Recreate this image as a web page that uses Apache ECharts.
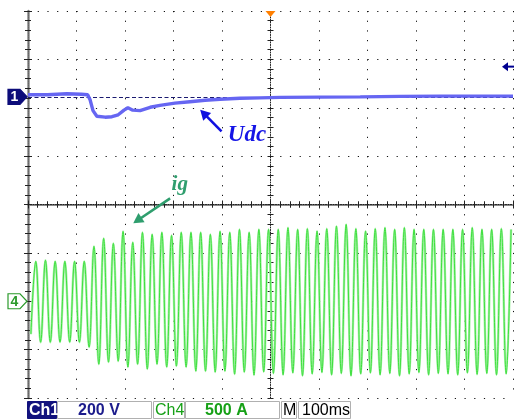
<!DOCTYPE html>
<html><head><meta charset="utf-8">
<script src="https://cdn.jsdelivr.net/npm/echarts@6/dist/echarts.min.js"></script>
<style>html,body{margin:0;padding:0;background:#fff}#c{width:514px;height:419px}</style>
</head><body><div id="c"></div>
<script>
// ---- scope settings ----
const timePerDiv = 100;   // ms/div
const ch1PerDiv = 200;    // V/div
const ch4PerDiv = 500;    // A/div
const ch1OffsetDiv = 2.225; // ch1 ground level (div above centre)
const ch4OffsetDiv = -2;    // ch4 ground level (div above centre)
const statusTexts = ['Ch1', '200 V', 'Ch4', '500 A', 'M', '100ms'];

// ---- Udc (ch1), volts relative to ch1 ground marker ----
const udcTime = [0, 40, 80, 110, 123, 128, 134, 142, 159, 173, 186, 198, 206, 216, 231, 252, 272, 303, 334, 365, 396, 437, 478, 520, 602, 685, 767, 849, 932, 1000];
const udcVolt = [9, 9, 13, 11, 9, -12, -57, -80, -84, -82, -74, -55, -45, -55, -57, -43, -35, -26, -20, -14, -10, -6, -4, -2, -1, 0, 2, 3, 3, 3];

// ---- ig (ch4), amps: successive peaks / troughs ----
const igTime = [6,16,26,36,46,56,66,76,86,96,106,116,126,136,146,156,166,176,186,196,206,216,226,236,246,256,266,276,286,296,306,316,326,336,346,356,366,376,386,396,406,416,426,436,446,456,466,476,486,496,506,516,526,536,546,556,566,576,586,596,606,616,626,636,646,656,666,676,686,696,706,716,726,736,746,756,766,776,786,796,806,816,826,836,846,856,866,876,886,896,906,916,926,936,946,956,966,976,986,996];
const igAmp = [-340,412,-423,423,-423,412,-423,412,-423,412,-423,412,-474,567,-650,650,-629,598,-619,722,-680,608,-650,711,-701,691,-650,711,-680,680,-670,711,-680,711,-722,711,-722,691,-732,722,-722,711,-753,742,-732,711,-763,742,-730,742,-745,742,-760,760,-740,742,-770,749,-750,725,-735,749,-760,777,-745,794,-770,749,-750,725,-740,749,-760,760,-745,742,-770,760,-750,742,-735,742,-760,742,-745,742,-750,742,-760,742,-740,760,-755,742,-745,742,-760,749,-750,742];

// ---- annotations (data coordinates) ----
const ch1TrigLevel = 125;            // V
const trigTime = 500;                // ms
const udcLabel = {text: 'Udc', at: [412, -158], from: [399, -143], to: [355, -53]};
const igLabel  = {text: 'ig',  at: [296, 1202], from: [293, 1064], to: [217, 806]};

const zip = (a, b) => a.map((v, i) => [v, b[i]]);

const chart = echarts.init(document.getElementById('c'));
const tickStyle = {color: '#222', width: 1};
const dotV = [1.2, 8.475];
const dotH = [1.2, 8.5];
const baseX = {type: 'value', min: 0, max: 10 * timePerDiv, interval: timePerDiv, axisLabel: {show: false}, splitLine: {show: false}};
const baseY = {type: 'value', min: -4, max: 4, interval: 1, axisLabel: {show: false}, splitLine: {show: false}};
const tk = (len) => ({show: true, inside: true, length: len, lineStyle: tickStyle});
const mt = (len) => ({show: true, splitNumber: 5, length: len, lineStyle: tickStyle});

chart.setOption({
  animation: false,
  backgroundColor: '#fff',
  grid: {left: 28, top: 11, width: 485, height: 387, containLabel: false, outerBoundsMode: 'none'},
  xAxis: [
    Object.assign({}, baseX, {position: 'bottom', axisLine: {show: true, lineStyle: {color: '#666', width: 1, type: [1, 1]}}, axisTick: tk(4), minorTick: mt(3),
      splitLine: {show: true, lineStyle: {color: '#111', width: 1, type: dotV}}}),
    Object.assign({}, baseX, {position: 'top', axisLine: {show: true, lineStyle: {color: '#8a8a8a', width: 2}}, axisTick: tk(4), minorTick: mt(3)}),
    Object.assign({}, baseX, {position: 'bottom', offset: -193.5, axisLine: {show: true, lineStyle: {color: '#222', width: 1, type: [1, 1.5]}}, axisTick: tk(3), minorTick: mt(3)}),
    Object.assign({}, baseX, {position: 'top', offset: -193.5, axisLine: {show: false}, axisTick: tk(3), minorTick: mt(3)})
  ],
  yAxis: [
    Object.assign({}, baseY, {position: 'left', axisLine: {show: true, lineStyle: {color: '#8a8a8a', width: 2.5}}, axisTick: tk(4), minorTick: mt(3),
      splitLine: {show: true, lineStyle: {color: '#111', width: 1, type: dotH}}}),
    Object.assign({}, baseY, {position: 'right', axisLine: {show: true, lineStyle: {color: '#666', width: 1, type: [1, 1]}}, axisTick: tk(4), minorTick: mt(3)}),
    Object.assign({}, baseY, {position: 'left', offset: -242.5, axisLine: {show: true, lineStyle: {color: '#222', width: 1, type: [1, 1.5]}}, axisTick: tk(3), minorTick: mt(3)}),
    Object.assign({}, baseY, {position: 'right', offset: -242.5, axisLine: {show: false}, axisTick: tk(3), minorTick: mt(3)}),
    {type: 'value', show: false, min: -(4 + ch1OffsetDiv) * ch1PerDiv, max: (4 - ch1OffsetDiv) * ch1PerDiv},
    {type: 'value', show: false, min: -(4 + ch4OffsetDiv) * ch4PerDiv, max: (4 - ch4OffsetDiv) * ch4PerDiv}
  ],
  series: [
    {name: 'ig_glow', type: 'line', xAxisIndex: 0, yAxisIndex: 5, data: zip(igTime, igAmp), showSymbol: false, smooth: 0.4,
      lineStyle: {color: '#a8f2a8', width: 2.4}, z: 3, silent: true},
    {name: 'ig', type: 'line', xAxisIndex: 0, yAxisIndex: 5, data: zip(igTime, igAmp), showSymbol: false, smooth: 0.4,
      lineStyle: {color: '#3fe03f', width: 1}, z: 4, silent: true},
    {name: 'Udc', type: 'line', xAxisIndex: 0, yAxisIndex: 4, data: zip(udcTime, udcVolt), showSymbol: false,
      lineStyle: {color: '#6666f2', width: 3.4}, z: 6, silent: true,
      markLine: {silent: true, symbol: 'none', label: {show: false}, data: [{yAxis: 0}],
        lineStyle: {type: [4, 2.5], color: '#1a1a70', width: 1.2}}}
  ]
});

// ---- decorations ----
const p1 = (v) => chart.convertToPixel({xAxisIndex: 0, yAxisIndex: 4}, v);
const p4 = (v) => chart.convertToPixel({xAxisIndex: 0, yAxisIndex: 5}, v);

function arrow(a, b, color, w, hl, hw) {
  const dx = b[0] - a[0], dy = b[1] - a[1];
  const L = Math.hypot(dx, dy), ux = dx / L, uy = dy / L;
  const bx = b[0] - ux * hl, by = b[1] - uy * hl;
  return [
    {type: 'line', shape: {x1: a[0], y1: a[1], x2: bx + ux * 1, y2: by + uy * 1}, style: {stroke: color, lineWidth: w}, z: 20},
    {type: 'polygon', shape: {points: [b, [bx - uy * hw, by + ux * hw], [bx + uy * hw, by - ux * hw]]}, style: {fill: color}, z: 20}
  ];
}
function marker(y, fill, stroke, txt, txtColor) {
  return [
    {type: 'polygon', shape: {points: [[8, y - 7.5], [20, y - 7.5], [27, y], [20, y + 7.5], [8, y + 7.5]]},
      style: {fill: fill, stroke: stroke, lineWidth: 1.2}, z: 20},
    {type: 'text', x: 14.5, y: y + 0.5, style: {text: txt, fill: txtColor, font: 'bold 14px "Liberation Sans"', align: 'center', verticalAlign: 'middle'}, z: 21}
  ];
}

const g = [];
const c1 = p1([0, 0])[1];
const c4 = p4([0, 0])[1];
g.push(...marker(c1, '#0c0c7a', '#0c0c7a', '1', '#fff'));
g.push(...marker(c4, '#fff', '#2a9a2a', '4', '#2a9a2a'));

// ch1 trigger level arrow at right
const ty = p1([1000, ch1TrigLevel])[1];
g.push({type: 'line', shape: {x1: 506, y1: ty, x2: 514, y2: ty}, style: {stroke: '#000090', lineWidth: 2}, z: 20});
g.push({type: 'polygon', shape: {points: [[502, ty], [508, ty - 4.5], [508, ty + 4.5]]}, style: {fill: '#000090'}, z: 20});

// trigger position
const tx = p1([trigTime, 0])[0];
g.push({type: 'polygon', shape: {points: [[tx - 5, 11], [tx + 5, 11], [tx, 17]]}, style: {fill: '#ff7f00'}, z: 20});

// annotations
g.push(...arrow(p1(udcLabel.from), p1(udcLabel.to), '#1010e0', 2.6, 10, 5.5));
const ul = p1(udcLabel.at);
g.push({type: 'text', x: ul[0], y: ul[1], style: {text: udcLabel.text, fill: '#1414e6', font: 'italic bold 23px "Liberation Serif"', verticalAlign: 'middle'}, z: 21});
g.push(...arrow(p4(igLabel.from), p4(igLabel.to), '#2f9e6e', 2.6, 10, 5.5));
const il = p4(igLabel.at);
g.push({type: 'text', x: il[0], y: il[1], style: {text: igLabel.text, fill: '#2f9e6e', font: 'italic bold 21px "Liberation Serif"', verticalAlign: 'middle'}, z: 21});

// status bar
const boxes = [
  {x: 27, w: 30, bg: '#12127e', fg: '#ffffff', bold: true, tx: 29},
  {x: 57, w: 95, bg: '#ffffff', fg: '#1c1c8c', bold: true, tx: 78},
  {x: 153, w: 32, bg: '#ffffff', fg: '#16a016', bold: false, tx: 155},
  {x: 185, w: 95, bg: '#ffffff', fg: '#16a016', bold: true, tx: 205},
  {x: 281, w: 16, bg: '#ffffff', fg: '#000000', bold: false, tx: 283},
  {x: 298, w: 53, bg: '#ffffff', fg: '#000000', bold: false, tx: 302}
];
boxes.forEach((b, i) => {
  g.push({type: 'rect', shape: {x: b.x + 0.5, y: 401.5, width: b.w - 1, height: 17}, style: {fill: b.bg, stroke: i === 0 ? b.bg : '#b0b0b0', lineWidth: 1}, z: 20});
  g.push({type: 'text', x: b.tx, y: 411, style: {text: statusTexts[i], fill: b.fg, font: (b.bold ? 'bold ' : '') + '16px "Liberation Sans"', verticalAlign: 'middle'}, z: 21});
});

chart.setOption({graphic: g});
</script></body></html>
